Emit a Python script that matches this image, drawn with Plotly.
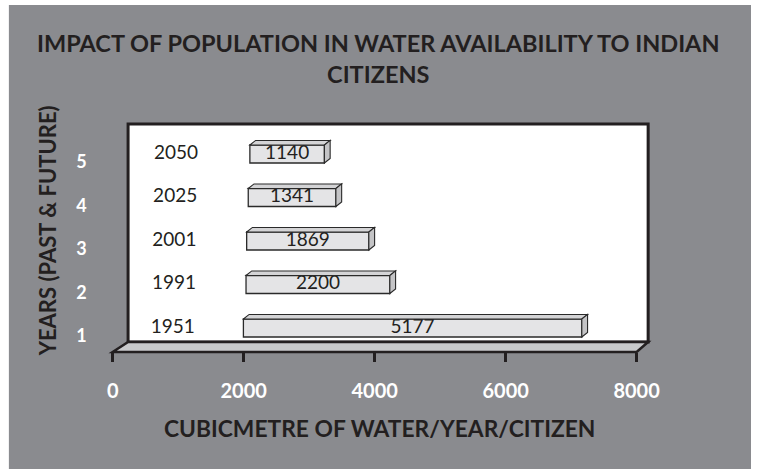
import plotly.graph_objects as go

# ---- data ----
years = [1951, 1991, 2001, 2025, 2050]
year_index = [1, 2, 3, 4, 5]
water = [5177, 2200, 1869, 1341, 1140]
x_ticks = [0, 2000, 4000, 6000, 8000]
title_text = "IMPACT OF POPULATION IN WATER AVAILABILITY TO INDIAN<br>CITIZENS"
x_title = "CUBICMETRE OF WATER/YEAR/CITIZEN"
y_title = "YEARS (PAST & FUTURE)"

W, H = 775, 469
GREY = "#8a8b8f"
INK = "#231f20"
FONT = "Lato"

def px(x):
    return x / W

def py(y):
    return 1 - y / H

y_range = [(371.5 - H) / 43.5, 371.5 / 43.5]
bar_w = 0.414
dx, dy = 88, 0.105

fig = go.Figure()

fig.add_trace(go.Bar(
    y=year_index, x=water, base=years, orientation="h", width=bar_w,
    marker=dict(color="#e4e4e6", line=dict(color="#2a2a2a", width=1.3)),
    hoverinfo="skip", showlegend=False,
))

fig.add_trace(go.Scatter(
    x=[b + v / 2 for b, v in zip(years, water)], y=year_index,
    mode="text", text=[str(v) for v in water], textposition="middle center",
    textfont=dict(family=FONT, size=19, color=INK),
    hoverinfo="skip", showlegend=False, cliponaxis=False,
))

# year labels (the invisible base series), drawn on the label plane axis x2
fig.add_trace(go.Scatter(
    x=[b / 2 for b in years], y=year_index, xaxis="x2",
    mode="text", text=[str(b) for b in years], textposition="middle center",
    textfont=dict(family=FONT, size=19, color=INK),
    hoverinfo="skip", showlegend=False, cliponaxis=False,
))

shapes = []
shapes.append(dict(type="rect", xref="paper", yref="paper",
                   x0=px(3), x1=1, y0=0, y1=py(5),
                   fillcolor=GREY, line=dict(width=0), layer="below"))
shapes.append(dict(type="rect", xref="paper", yref="paper",
                   x0=px(127), x1=px(668), y0=py(342), y1=py(124),
                   fillcolor="white", line=dict(color=INK, width=3), layer="below"))
floor_path = "M {} {} L {} {} L {} {} L {} {} Z".format(
    px(127), py(342), px(668), py(342), px(656), py(352), px(111), py(352))
shapes.append(dict(type="path", xref="paper", yref="paper", path=floor_path,
                   fillcolor="#c8c9cb", line=dict(color=INK, width=2.5), layer="below"))

for b, v, c in zip(years, water, year_index):
    x0, x1 = b, b + v
    yt, yb = c + bar_w / 2, c - bar_w / 2
    top = "M {} {} L {} {} L {} {} L {} {} Z".format(
        x0, yt, x0 + dx, yt + dy, x1 + dx, yt + dy, x1, yt)
    side = "M {} {} L {} {} L {} {} L {} {} Z".format(
        x1, yb, x1 + dx, yb + dy, x1 + dx, yt + dy, x1, yt)
    shapes.append(dict(type="path", xref="x", yref="y", path=top,
                       fillcolor="#d4d4d6", line=dict(color="#2a2a2a", width=1.1), layer="above"))
    shapes.append(dict(type="path", xref="x", yref="y", path=side,
                       fillcolor="#c4c4c6", line=dict(color="#2a2a2a", width=1.1), layer="above"))

annotations = [
    dict(text=title_text, xref="paper", yref="paper", x=px(388), y=py(59),
         showarrow=False, xanchor="center", yanchor="middle",
         font=dict(family=FONT, size=23.5, color=INK, weight="bold")),
    dict(text=x_title, xref="paper", yref="paper", x=px(389), y=py(428),
         showarrow=False, xanchor="center", yanchor="middle",
         font=dict(family=FONT, size=22.8, color=INK, weight="bold")),
    dict(text=y_title, xref="paper", yref="paper", x=px(43), y=py(231),
         showarrow=False, xanchor="center", yanchor="middle", textangle=-90,
         font=dict(family=FONT, size=22, color=INK, weight="bold")),
]

fig.update_layout(
    width=W, height=H,
    margin=dict(l=0, r=0, t=0, b=0),
    paper_bgcolor="white", plot_bgcolor="rgba(0,0,0,0)",
    shapes=shapes, annotations=annotations,
    showlegend=False,
    xaxis=dict(domain=[px(114.3), px(658.3)], range=[0, 8000],
               visible=False, fixedrange=True),
    xaxis2=dict(domain=[px(107), px(652)], range=[0, 8000],
                anchor="free", position=py(352),
                showticklabels=False, ticks="", showline=False, showgrid=False,
                zeroline=False, fixedrange=True),
    xaxis3=dict(domain=[px(111), px(656)], range=[0, 8000],
                anchor="free", position=py(352),
                tickvals=x_ticks, ticktext=[str(t) for t in x_ticks],
                ticks="outside", ticklen=9, tickwidth=2.5, tickcolor=INK,
                showline=False, showgrid=False, zeroline=False,
                ticklabelstandoff=12, fixedrange=True,
                tickfont=dict(family=FONT, size=20, color="white", weight="bold")),
    yaxis=dict(domain=[0, 1], range=y_range, visible=False, fixedrange=True),
    yaxis2=dict(overlaying="y", anchor="free", position=px(84), side="left",
                range=[y_range[0] + 0.18, y_range[1] + 0.18],
                tickvals=year_index, ticktext=[str(i) for i in year_index],
                ticks="", showline=False, showgrid=False, zeroline=False,
                tickfont=dict(family=FONT, size=18, color="white", weight="bold")),
)

# invisible anchors for the tick-label axes
fig.add_trace(go.Scatter(x=[0], y=[1], xaxis="x", yaxis="y2", mode="markers",
                         marker=dict(opacity=0), hoverinfo="skip", showlegend=False))
fig.add_trace(go.Scatter(x=[0], y=[1], xaxis="x3", yaxis="y", mode="markers",
                         marker=dict(opacity=0), hoverinfo="skip", showlegend=False))

fig.write_html("out.html")
